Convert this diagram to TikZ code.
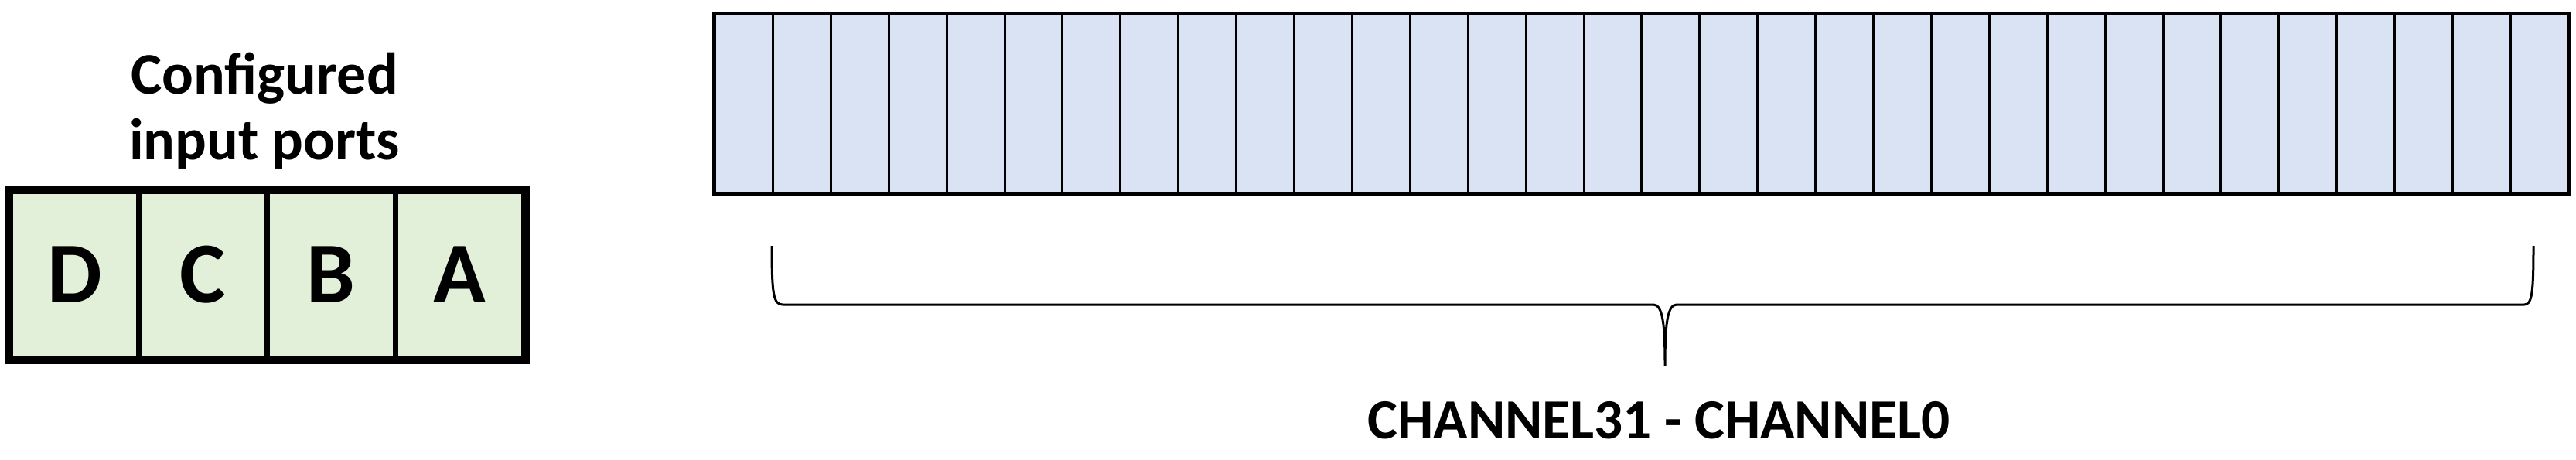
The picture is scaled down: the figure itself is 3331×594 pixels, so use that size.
\documentclass[tikz,border=0pt]{standalone}
\usepackage{fontspec}
\setmainfont{Carlito}
\begin{document}
\begin{tikzpicture}[x=0.3pt,y=-0.3pt,
  port/.style={draw,line width=2pt,fill=green!10!white!95!black,fill=portfill,minimum width=0.3pt*166,minimum height=0.3pt*216,inner sep=0,anchor=north west,font=\fontsize{33.6}{40}\selectfont\bfseries},
  chan/.style={draw,line width=0.9pt,fill=chanfill,minimum width=0.3pt*74.9,minimum height=0.3pt*231,inner sep=0,anchor=north west}]
\definecolor{portfill}{RGB}{226,240,217}
\definecolor{chanfill}{RGB}{218,227,243}
\useasboundingbox (0,0) rectangle (3331,594);
\node[font=\fontsize{22.8}{25.5}\selectfont\bfseries,align=center] (title) at (342,143) {Configured\\input ports};
\foreach \l [count=\i from 0] in {D,C,B,A}
  \node[port] (p\i) at (10+166*\i,244) {\l};
\draw[line width=2.7pt] (p0.north west) rectangle (p3.south east);
\foreach \i in {0,...,31}
  \node[chan] (c\i) at (923+74.9*\i,17) {};
\draw[line width=1.2pt] (c0.north west) rectangle (c31.south east);
\coordinate (bl) at (998,318);
\coordinate (br) at (3276,318);
\coordinate (tip) at (2153,473);
\draw[line width=0.9pt] (bl) .. controls (998,380) and (1000,394) .. (1012,394) -- (2138,394)
  .. controls (2150,394) and (2153,420) .. (tip)
  .. controls (2153,420) and (2156,394) .. (2168,394) -- (3264,394)
  .. controls (3274,394) and (3276,380) .. (br);
\node[font=\fontsize{22}{26}\selectfont\bfseries,anchor=base] (lab) at (2145,567) {CHANNEL31 - CHANNEL0};
\end{tikzpicture}
\end{document}
